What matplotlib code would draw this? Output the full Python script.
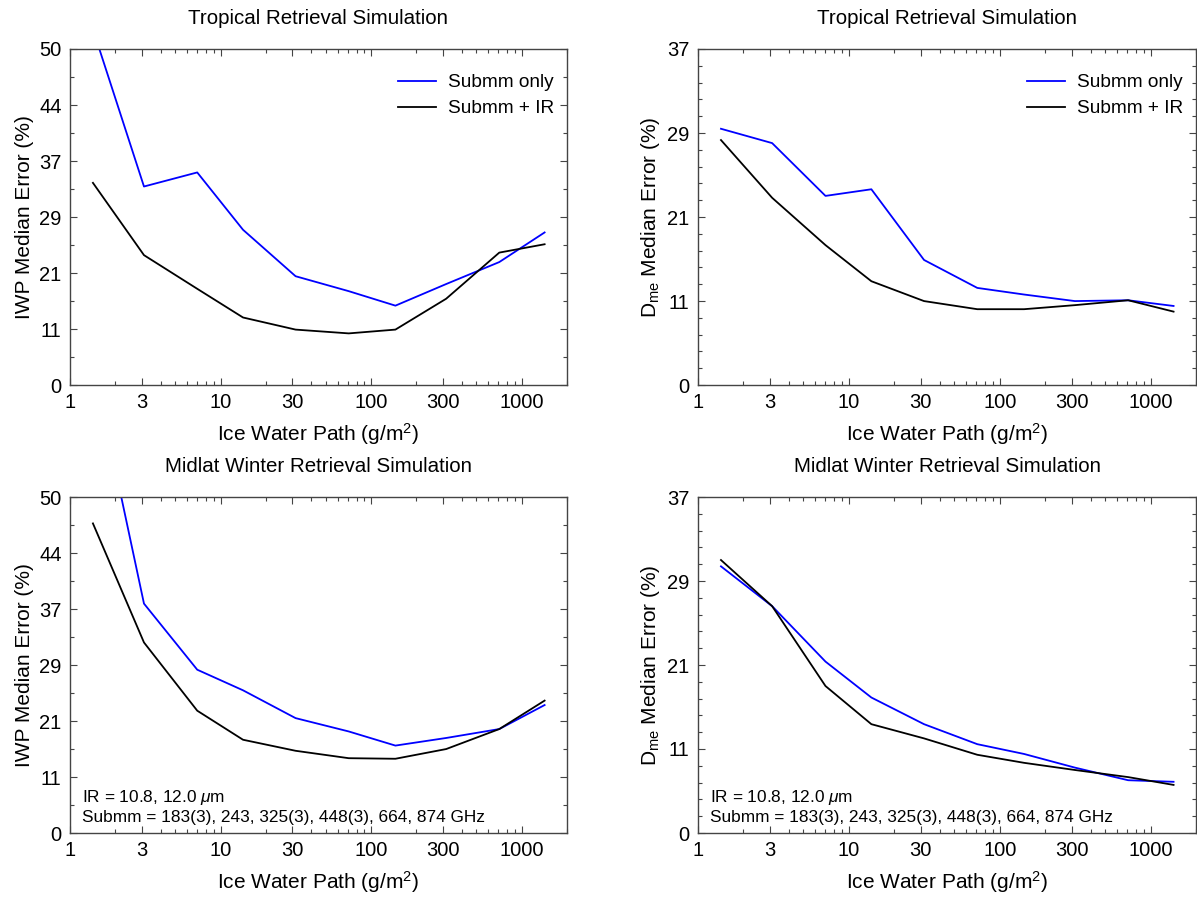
import numpy as np
import matplotlib
matplotlib.use("Agg")
import matplotlib.pyplot as plt
from matplotlib.ticker import FixedLocator, NullFormatter, LogLocator

plt.rcParams['font.family'] = ['Liberation Sans', 'DejaVu Sans']
plt.rcParams['mathtext.fontset'] = 'custom'
plt.rcParams['mathtext.rm'] = 'Liberation Sans'
plt.rcParams['mathtext.it'] = 'Liberation Sans:italic'

# ---------------- data ----------------
iwp = [1.42, 3.1, 7.0, 14.1, 31.5, 71, 145, 315, 710, 1420]

trop_iwp_submm = [52.0, 33.6, 35.5, 27.4, 20.1, 17.6, 15.1, 18.8, 22.4, 27.0]
trop_iwp_ir = [34.1, 23.5, 18.0, 13.0, 10.8, 10.1, 10.8, 16.3, 23.9, 25.2]
trop_dme_submm = [29.7, 28.3, 22.9, 23.6, 15.8, 12.5, 11.7, 10.9, 11.0, 10.3]
trop_dme_ir = [28.6, 22.7, 17.5, 13.3, 10.9, 9.9, 9.9, 10.4, 11.0, 9.6]
mlw_iwp_submm = [62.0, 37.7, 28.6, 25.5, 21.1, 18.9, 16.5, 17.8, 19.3, 23.2]
mlw_iwp_ir = [47.2, 32.5, 22.3, 17.5, 15.6, 14.3, 14.2, 15.9, 19.3, 23.9]
mlw_dme_submm = [30.7, 26.8, 21.0, 17.0, 13.9, 11.5, 10.3, 8.6, 7.0, 6.8]
mlw_dme_ir = [31.3, 26.8, 18.3, 13.9, 12.2, 10.2, 9.2, 8.3, 7.4, 6.4]

xtick_vals = [1, 3, 10, 30, 100, 300, 1000]
xtick_labels = ['1', '3', '10', '30', '100', '300', '1000']
ytick_labels_iwp = ['0', '11', '21', '29', '37', '44', '50']
ytick_labels_dme = ['0', '11', '21', '29', '37']

series_labels = ['Submm only', 'Submm + IR']
titles = ['Tropical Retrieval Simulation', 'Midlat Winter Retrieval Simulation']
note_text = ['IR = 10.8, 12.0 $\\mu$m',
             'Submm = 183(3), 243, 325(3), 448(3), 664, 874 GHz']

# ---------------- scale ----------------
def fwd(e):
    e = np.asarray(e, dtype=float)
    return -np.log(np.clip(1.0 - e / 100.0, 1e-9, None))

def inv(s):
    s = np.asarray(s, dtype=float)
    return 100.0 * (1.0 - np.exp(-s))

step = np.log(2) / 6.0

W, H = 1197, 897
fig = plt.figure(figsize=(W / 100, H / 100), dpi=100)

def px_axes(x0, y0, x1, y1):
    return fig.add_axes([x0 / W, 1 - y1 / H, (x1 - x0) / W, (y1 - y0) / H])

layout = [
    (70, 49, 567, 385),
    (698, 49, 1196, 385),
    (70, 497, 567, 833),
    (698, 497, 1196, 833),
]

panels = [
    (trop_iwp_submm, trop_iwp_ir, 'iwp', titles[0], True, False),
    (trop_dme_submm, trop_dme_ir, 'dme', titles[0], True, False),
    (mlw_iwp_submm, mlw_iwp_ir, 'iwp', titles[1], False, True),
    (mlw_dme_submm, mlw_dme_ir, 'dme', titles[1], False, True),
]

spine_col = '#444444'
for (box, (ys, yi, kind, title, leg, note)) in zip(layout, panels):
    ax = px_axes(*box)
    ax.set_xscale('log')
    ax.set_yscale('function', functions=(fwd, inv))
    ax.plot(iwp, ys, color='#0000ff', lw=1.3, label=series_labels[0])
    ax.plot(iwp, yi, color='black', lw=1.3, label=series_labels[1])
    ax.set_xlim(1, 2000)
    if kind == 'iwp':
        labels = ytick_labels_iwp
        nmaj = 6
        nsub = 2
        ax.set_ylabel('IWP Median Error (%)', fontsize=15, labelpad=4)
    else:
        labels = ytick_labels_dme
        nmaj = 4
        nsub = 5
        ax.set_ylabel('D$_{\\rm me}$ Median Error (%)', fontsize=15, labelpad=4)
    maj = inv(np.arange(nmaj + 1) * step)
    mn = inv(np.arange(nmaj * nsub + 1) * step / nsub)
    ax.set_ylim(0, maj[-1])
    ax.yaxis.set_major_locator(FixedLocator(maj))
    ax.set_yticklabels(labels)
    ax.yaxis.set_minor_locator(FixedLocator(mn))
    ax.yaxis.set_minor_formatter(NullFormatter())
    ax.xaxis.set_major_locator(FixedLocator(xtick_vals))
    ax.set_xticklabels(xtick_labels)
    ax.xaxis.set_minor_locator(LogLocator(base=10, subs=np.arange(2, 10), numticks=20))
    ax.xaxis.set_minor_formatter(NullFormatter())
    ax.tick_params(which='both', direction='in', top=True, right=True,
                   color=spine_col, labelsize=14.5)
    ax.tick_params(which='major', length=5, width=0.8)
    ax.tick_params(which='minor', length=3, width=0.8)
    ax.tick_params(axis='x', which='major', pad=6)
    ax.tick_params(axis='y', which='major', pad=6)
    for sp in ax.spines.values():
        sp.set_color(spine_col)
        sp.set_linewidth(1.0)
    ax.set_xlabel('Ice Water Path (g/m$^2$)', fontsize=15, labelpad=6)
    ax.set_title(title, fontsize=14.8, pad=18)
    if leg:
        ax.legend(loc='upper right', frameon=False, fontsize=13.7,
                  handlelength=2.0, handletextpad=0.6, labelspacing=0.45,
                  borderaxespad=0.3, bbox_to_anchor=(1.0, 0.965))
    if note:
        ax.text(0.024, 0.107, note_text[0], transform=ax.transAxes,
                fontsize=12.4, va='center', ha='left')
        ax.text(0.024, 0.045, note_text[1], transform=ax.transAxes,
                fontsize=12.4, va='center', ha='left')

fig.savefig('out.png', dpi=100)
